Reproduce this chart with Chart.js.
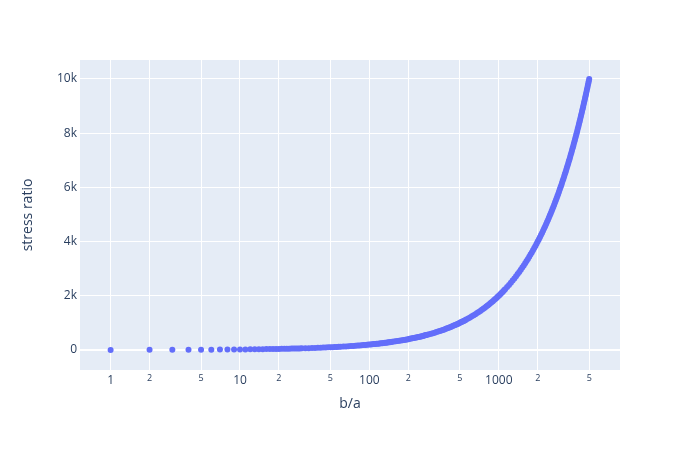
<!DOCTYPE html>
<html>
<head>
<meta charset="utf-8">
<script src="https://cdn.jsdelivr.net/npm/chart.js@4.4.1/dist/chart.umd.min.js"></script>
<style>
html,body{margin:0;padding:0;background:#fff;}
#wrap{width:700px;height:450px;position:relative;}
</style>
</head>
<body>
<div id="wrap"><canvas id="c" width="700" height="450"></canvas></div>
<script>
// b/a values (sampled along the curve)
const ratioBA = [
  1,2,3,4,5,6,7,8,9,10,11,12,13,14,15,16,17,18,19,20,21,22,23,24,25,26,27,28,29,30,
  32,34,36,38,40,42,44,46,48,50,52,54,56,58,60,
  63,66,69,72,75,78,81,84,87,90,93,96,99,102,105,108,111,114,117,120,123,126,129,132,135,138,141,144,147,150,
  155,160,165,170,175,180,185,190,195,200,205,210,215,220,225,230,235,240,245,250,255,260,265,270,275,280,
  290,300,310,320,330,340,350,360,370,380,390,400,410,420,430,440,450,460,470,480,490,500,510,520,530,540,550,560,
  580,600,620,640,660,680,700,720,740,760,780,800,820,840,860,880,900,920,940,960,980,1000,1020,1040,1060,1080,1100,1120,
  1160,1200,1240,1280,1320,1360,1400,1440,1480,1520,1560,1600,1640,1680,1720,1760,1800,
  1840,1880,1920,1960,2000,2040,2080,2120,2160,2200,2240,2280,2320,2360,2400,2440,2480,2520,2560,2600,
  2640,2680,2720,2760,2800,2840,2880,2920,2960,3000,3040,3080,3120,3160,3200,3240,3280,3320,3360,3400,
  3440,3480,3520,3560,3600,3640,3680,3720,3760,3800,3840,3880,3920,3960,4000,4040,4080,4120,4160,4200,
  4240,4280,4320,4360,4400,4440,4480,4520,4560,4600,4640,4680,4720,4760,4800,4840,4880,4920,4960,5000
];
// stress ratio values
const stressRatio = [
  3,5,7,9,11,13,15,17,19,21,23,25,27,29,31,33,35,37,39,41,43,45,47,49,51,53,55,57,59,61,
  65,69,73,77,81,85,89,93,97,101,105,109,113,117,121,
  127,133,139,145,151,157,163,169,175,181,187,193,199,205,211,217,223,229,235,241,247,253,259,265,271,277,283,289,295,301,
  311,321,331,341,351,361,371,381,391,401,411,421,431,441,451,461,471,481,491,501,511,521,531,541,551,561,
  581,601,621,641,661,681,701,721,741,761,781,801,821,841,861,881,901,921,941,961,981,1001,1021,1041,1061,1081,1101,1121,
  1161,1201,1241,1281,1321,1361,1401,1441,1481,1521,1561,1601,1641,1681,1721,1761,1801,1841,1881,1921,1961,2001,2041,2081,2121,2161,2201,2241,
  2321,2401,2481,2561,2641,2721,2801,2881,2961,3041,3121,3201,3281,3361,3441,3521,3601,
  3681,3761,3841,3921,4001,4081,4161,4241,4321,4401,4481,4561,4641,4721,4801,4881,4961,5041,5121,5201,
  5281,5361,5441,5521,5601,5681,5761,5841,5921,6001,6081,6161,6241,6321,6401,6481,6561,6641,6721,6801,
  6881,6961,7041,7121,7201,7281,7361,7441,7521,7601,7681,7761,7841,7921,8001,8081,8161,8241,8321,8401,
  8481,8561,8641,8721,8801,8881,8961,9041,9121,9201,9281,9361,9441,9521,9601,9681,9761,9841,9921,10001
];
const xTicks = [1,2,5,10,20,50,100,200,500,1000,2000,5000];
const xTickLabels = ['1','2','5','10','2','5','100','2','5','1000','2','5'];
const yTicks = [0,2000,4000,6000,8000,10000];
const yTickLabels = ['0','2k','4k','6k','8k','10k'];

const points = ratioBA.map((x,i)=>({x:x, y:stressRatio[i]}));
const FONT = '"Open Sans", verdana, arial, sans-serif';
const TXT = '#2a3f5f';

const bgPlugin = {
  id:'bg',
  beforeDraw(chart){
    const {ctx, chartArea:a} = chart;
    ctx.save();
    ctx.fillStyle = '#fff';
    ctx.fillRect(0,0,chart.width,chart.height);
    ctx.fillStyle = '#E5ECF6';
    ctx.fillRect(a.left, a.top, a.right-a.left, a.bottom-a.top);
    ctx.restore();
  }
};

new Chart(document.getElementById('c'), {
  type:'scatter',
  data:{datasets:[{
    data: points,
    backgroundColor:'#636EFA',
    borderWidth:0,
    pointRadius:3,
    pointHoverRadius:3
  }]},
  options:{
    responsive:false,
    animation:false,
    events:[],
    layout:{padding:{left:0,right:80,top:60,bottom:0}},
    plugins:{legend:{display:false},tooltip:{enabled:false}},
    scales:{
      x:{
        type:'logarithmic',
        min:0.58, max:8650,
        bounds:'data',
        afterFit(s){ s.height = 80; },
        afterBuildTicks(s){ s.ticks = xTicks.map(v=>({value:v})); },
        grid:{color:'#ffffff', lineWidth:1, drawTicks:false},
        border:{display:false},
        ticks:{
          autoSkip:false, maxRotation:0, padding:3, color:TXT,
          font:(ctx)=>{ const lbl = xTickLabels[xTicks.indexOf(ctx.tick ? ctx.tick.value : 0)];
                        return {family:FONT, size:(lbl==='2'||lbl==='5')?9:12}; },
          callback:(v)=>{ const i = xTicks.indexOf(v); return i>=0 ? xTickLabels[i] : ''; }
        },
        title:{display:true, text:'b/a', color:TXT, font:{family:FONT,size:14}, padding:{top:0,bottom:38}}
      },
      y:{
        type:'linear',
        min:-738, max:10701,
        bounds:'data',
        afterFit(s){ s.width = 80; },
        afterBuildTicks(s){ s.ticks = yTicks.map(v=>({value:v})); },
        grid:{color:'#ffffff', lineWidth:(ctx)=> (ctx.tick && ctx.tick.value===0) ? 2 : 1, drawTicks:false},
        border:{display:false},
        ticks:{
          padding:3, color:TXT, font:{family:FONT,size:12},
          callback:(v)=>{ const i = yTicks.indexOf(v); return i>=0 ? yTickLabels[i] : ''; }
        },
        title:{display:true, text:'stress ratio', color:TXT, font:{family:FONT,size:14}, padding:{top:20,bottom:0}}
      }
    }
  },
  plugins:[bgPlugin]
});
</script>
</body>
</html>
